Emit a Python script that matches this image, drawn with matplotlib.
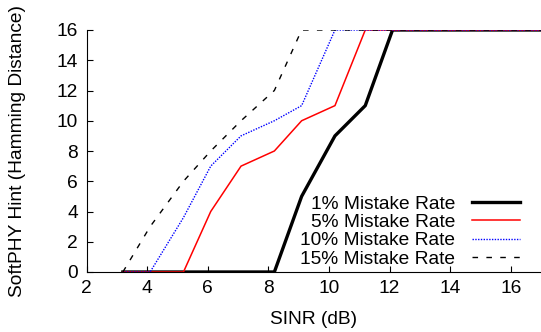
import numpy as np
import matplotlib
matplotlib.use("Agg")
import matplotlib.pyplot as plt

plt.rcParams['font.family'] = ['Liberation Sans', 'DejaVu Sans']

# --- data ---
sinr = [3.2, 4.1, 5.2, 6.1, 7.1, 8.2, 9.1, 10.2, 11.2, 12.1, 13.1, 14.1, 15.1, 16.1, 17.1]
rate_1 = [0, 0, 0, 0, 0, 0, 5, 9, 11, 16, 16, 16, 16, 16, 16]
rate_5 = [0, 0, 0, 4, 7, 8, 10, 11, 16, 16, 16, 16, 16, 16, 16]
rate_10 = [0, 0, 3.6, 7, 9, 10, 11, 16, 16, 16, 16, 16, 16, 16, 16]
rate_15 = [0, 3, 6, 8, 10, 12, 16, 16, 16, 16, 16, 16, 16, 16, 16]
labels = ["1% Mistake Rate", "5% Mistake Rate", "10% Mistake Rate", "15% Mistake Rate"]

FS = 13.8

fig = plt.figure(figsize=(5.41, 3.32), dpi=100)
ax = fig.add_axes([86.5 / 541, 60 / 332, 454.5 / 541, 242 / 332])

ax.plot(sinr, rate_1, color="black", lw=2.4, label=labels[0])
ax.plot(sinr, rate_5, color="red", lw=1.1, label=labels[1])
ax.plot(sinr, rate_10, color="blue", lw=1.0, ls=(0, (1, 1)), label=labels[2])
ax.plot(sinr, rate_15, color="black", lw=1.0, ls=(0, (4, 6)), label=labels[3])

ax.set_xlim(2, 17)
ax.set_ylim(0, 16)
ax.set_xticks(range(2, 17, 2))
ax.set_yticks(range(0, 17, 2))
ax.spines["top"].set_visible(False)
ax.spines["right"].set_visible(False)
ax.tick_params(direction="in", length=4, labelsize=FS, pad=6)

ax.set_xlabel("SINR (dB)", fontsize=FS, labelpad=10)
ax.set_ylabel("SoftPHY Hint (Hamming Distance)", fontsize=FS, labelpad=22)

ax.legend(loc="lower right", bbox_to_anchor=(0.98, -0.03), frameon=False,
          markerfirst=False, fontsize=FS, handlelength=2.5, handletextpad=0.9,
          labelspacing=0.05, borderaxespad=0.2)

fig.savefig("out.png", dpi=100)
